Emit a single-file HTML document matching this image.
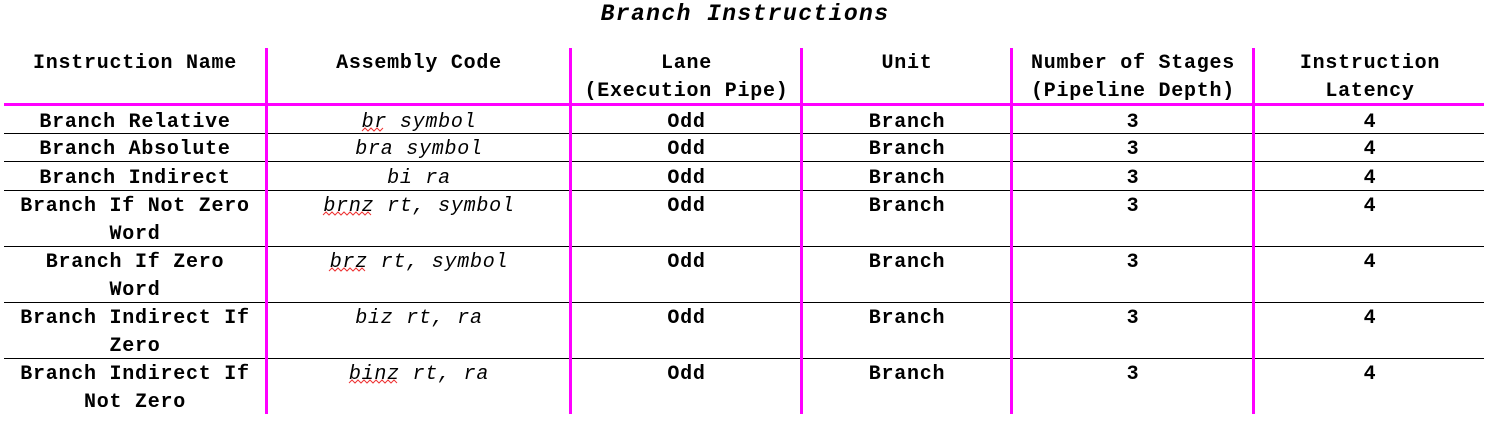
<!DOCTYPE html>
<html><head><meta charset="utf-8"><style>
body{margin:0;width:1501px;height:431px;background:#fff;position:relative;overflow:hidden;font-family:"Liberation Mono",monospace;color:#000}
.t{position:absolute;text-align:center;font-size:20px;letter-spacing:0.75px;line-height:28px;font-weight:bold;white-space:nowrap;transform:translateY(2px)}
.i{font-weight:normal;font-style:italic}
.h{position:absolute;left:4px;width:1480px;height:1px;background:#000}
.v{position:absolute;top:48px;height:366px;width:3px;background:#f0f}
.title{position:absolute;top:0px;left:0;width:1490px;text-align:center;font-size:23px;font-weight:bold;font-style:italic;letter-spacing:1.4px;line-height:28px}
</style></head><body>
<div class="title">Branch Instructions</div>
<div class="h" style="top:103px;height:3px;background:#f0f"></div>
<div class="h" style="top:133px"></div>
<div class="h" style="top:161px"></div>
<div class="h" style="top:190px"></div>
<div class="h" style="top:246px"></div>
<div class="h" style="top:302px"></div>
<div class="h" style="top:358px"></div>
<div class="v" style="left:265px"></div>
<div class="v" style="left:569px"></div>
<div class="v" style="left:800px"></div>
<div class="v" style="left:1010px"></div>
<div class="v" style="left:1252px"></div>

<div class="t" style="left:4px;width:262px;top:48px">Instruction Name</div>
<div class="t" style="left:268px;width:302px;top:48px">Assembly Code</div>
<div class="t" style="left:572px;width:229px;top:48px">Lane<br>(Execution Pipe)</div>
<div class="t" style="left:803px;width:208px;top:48px">Unit</div>
<div class="t" style="left:1013px;width:240px;top:48px">Number of Stages<br>(Pipeline Depth)</div>
<div class="t" style="left:1255px;width:230px;top:48px">Instruction<br>Latency</div>

<div class="t" style="left:4px;width:262px;top:107px">Branch Relative</div>
<div class="t" style="left:4px;width:262px;top:134px">Branch Absolute</div>
<div class="t" style="left:4px;width:262px;top:163px">Branch Indirect</div>
<div class="t" style="left:4px;width:262px;top:191px">Branch If Not Zero<br>Word</div>
<div class="t" style="left:4px;width:262px;top:247px">Branch If Zero<br>Word</div>
<div class="t" style="left:4px;width:262px;top:303px">Branch Indirect If<br>Zero</div>
<div class="t" style="left:4px;width:262px;top:359px">Branch Indirect If<br>Not Zero</div>

<div class="t i" style="left:268px;width:302px;top:107px">br symbol</div>
<div class="t i" style="left:268px;width:302px;top:134px">bra symbol</div>
<div class="t i" style="left:268px;width:302px;top:163px">bi ra</div>
<div class="t i" style="left:268px;width:302px;top:191px">brnz rt, symbol</div>
<div class="t i" style="left:268px;width:302px;top:247px">brz rt, symbol</div>
<div class="t i" style="left:268px;width:302px;top:303px">biz rt, ra</div>
<div class="t i" style="left:268px;width:302px;top:359px">binz rt, ra</div>

<svg style="position:absolute;left:0;top:0" width="1501" height="431">
<g fill="none" stroke="#e33" stroke-width="1">
<path d="M362 131 l3 -3 l3 3 l3 -3 l3 3 l3 -3 l3 3 l3 -3"/>
<path d="M323 215 l3 -3 l3 3 l3 -3 l3 3 l3 -3 l3 3 l3 -3 l3 3 l3 -3 l3 3 l3 -3 l3 3 l3 -3 l3 3 l3 -3 l3 3"/>
<path d="M329 271 l3 -3 l3 3 l3 -3 l3 3 l3 -3 l3 3 l3 -3 l3 3 l3 -3 l3 3 l3 -3 l3 3"/>
<path d="M349 383 l3 -3 l3 3 l3 -3 l3 3 l3 -3 l3 3 l3 -3 l3 3 l3 -3 l3 3 l3 -3 l3 3 l3 -3 l3 3 l3 -3 l3 3"/>
</g></svg>

<div class="t" style="left:572px;width:229px;top:107px">Odd</div>
<div class="t" style="left:572px;width:229px;top:134px">Odd</div>
<div class="t" style="left:572px;width:229px;top:163px">Odd</div>
<div class="t" style="left:572px;width:229px;top:191px">Odd</div>
<div class="t" style="left:572px;width:229px;top:247px">Odd</div>
<div class="t" style="left:572px;width:229px;top:303px">Odd</div>
<div class="t" style="left:572px;width:229px;top:359px">Odd</div>

<div class="t" style="left:803px;width:208px;top:107px">Branch</div>
<div class="t" style="left:803px;width:208px;top:134px">Branch</div>
<div class="t" style="left:803px;width:208px;top:163px">Branch</div>
<div class="t" style="left:803px;width:208px;top:191px">Branch</div>
<div class="t" style="left:803px;width:208px;top:247px">Branch</div>
<div class="t" style="left:803px;width:208px;top:303px">Branch</div>
<div class="t" style="left:803px;width:208px;top:359px">Branch</div>

<div class="t" style="left:1013px;width:240px;top:107px">3</div>
<div class="t" style="left:1013px;width:240px;top:134px">3</div>
<div class="t" style="left:1013px;width:240px;top:163px">3</div>
<div class="t" style="left:1013px;width:240px;top:191px">3</div>
<div class="t" style="left:1013px;width:240px;top:247px">3</div>
<div class="t" style="left:1013px;width:240px;top:303px">3</div>
<div class="t" style="left:1013px;width:240px;top:359px">3</div>

<div class="t" style="left:1255px;width:230px;top:107px">4</div>
<div class="t" style="left:1255px;width:230px;top:134px">4</div>
<div class="t" style="left:1255px;width:230px;top:163px">4</div>
<div class="t" style="left:1255px;width:230px;top:191px">4</div>
<div class="t" style="left:1255px;width:230px;top:247px">4</div>
<div class="t" style="left:1255px;width:230px;top:303px">4</div>
<div class="t" style="left:1255px;width:230px;top:359px">4</div>
</body></html>
